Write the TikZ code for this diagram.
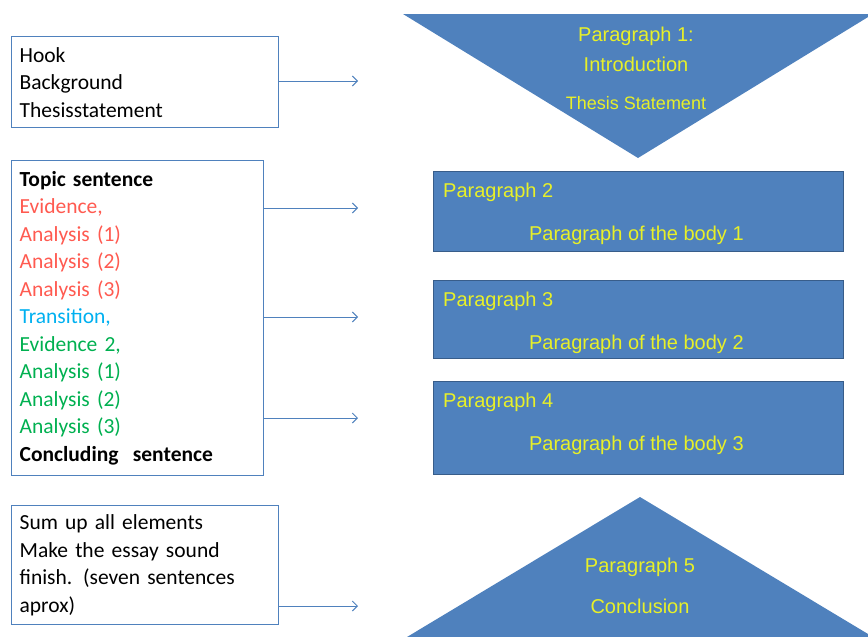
\documentclass[tikz,border=0pt]{standalone}
\usepackage{fontspec}
\setmainfont{Carlito}
\newfontfamily\arialfont{Liberation Sans}
\usetikzlibrary{arrows.meta}

\definecolor{boxblue}{RGB}{79,129,189}
\definecolor{edgeblue}{RGB}{56,93,138}
\definecolor{paryellow}{RGB}{232,240,40}
\definecolor{evired}{RGB}{255,90,80}
\definecolor{transblue}{RGB}{0,176,240}
\definecolor{evigreen}{RGB}{0,176,80}

\begin{document}
\begin{tikzpicture}[x=1pt,y=-1pt]

	\tikzstyle note box=[draw=boxblue, line width=1.3pt, anchor=north west, align=left,
		inner xsep=8pt, inner ysep=0pt, font=\fontsize{21.5}{27.5}\selectfont];
	\tikzstyle par box=[draw=edgeblue, fill=boxblue, line width=0.8pt, anchor=north west];
	\tikzstyle par text=[text=paryellow, font=\arialfont\fontsize{20}{22}\selectfont, inner sep=0pt];
	\tikzstyle link lines=[-{Straight Barb[length=5pt,width=10pt]}, draw=boxblue, line width=1pt];

	\useasboundingbox (0,0) rectangle (868,637);

	% left column: what goes in each part
	\node[note box, text width=251pt, minimum height=91pt] (intro) at (11,36)
		{Hook\\Background\\Thesisstatement};
	\node[note box, text width=236pt, minimum height=315pt] (body) at (11,160)
		{\textbf{Topic sentence}\\
		 \textcolor{evired}{Evidence,}\\
		 \textcolor{evired}{Analysis (1)}\\
		 \textcolor{evired}{Analysis (2)}\\
		 \textcolor{evired}{Analysis (3)}\\
		 \textcolor{transblue}{Transition,}\\
		 \textcolor{evigreen}{Evidence 2,}\\
		 \textcolor{evigreen}{Analysis (1)}\\
		 \textcolor{evigreen}{Analysis (2)}\\
		 \textcolor{evigreen}{Analysis (3)}\\
		 \textbf{Concluding\ \ sentence}};
	\node[note box, text width=251pt, minimum height=119pt] (close) at (11,505)
		{Sum up all elements\\Make the essay sound\\finish. (seven sentences\\aprox)};

	% right column: the five paragraphs
	\fill[boxblue] (403,14) -- (873,14) -- (638,158) -- cycle;
	\node[par text] (p1a) at (636,36) {Paragraph 1:};
	\node[par text] (p1b) at (636,64) {Introduction};
	\node[par text, font=\arialfont\fontsize{18}{20}\selectfont] (p1c) at (636,103) {Thesis Statement};

	\foreach \n/\top/\h in {2/171/80,3/280/78,4/381/93}{
		\pgfmathtruncatemacro{\b}{\n-1}
		\node[par box, minimum width=410pt, minimum height=\h pt] (p\n) at (433,\top) {};
		\node[par text, anchor=west] (p\n a) at ([xshift=10pt, yshift=-21pt]p\n.north west) {Paragraph \n};
		\node[par text] (p\n b) at ([xshift=-2pt, yshift=-64pt]p\n.north) {Paragraph of the body \b};
	}

	\fill[boxblue] (640,497) -- (873,637) -- (407,637) -- cycle;
	\node[par text] (p5a) at (640,567) {Paragraph 5};
	\node[par text] (p5b) at (640,606) {Conclusion};

	% arrows
	\coordinate (t1) at (358,81);
	\coordinate (t2) at (358,208);
	\coordinate (t3) at (358,317);
	\coordinate (t4) at (358,418);
	\coordinate (t5) at (358,606);
	\draw[link lines] (t1 -| intro.east) -- (t1);
	\foreach \t in {t2,t3,t4}
		\draw[link lines] (\t -| body.east) -- (\t);
	\draw[link lines] (t5 -| close.east) -- (t5);

\end{tikzpicture}
\end{document}
